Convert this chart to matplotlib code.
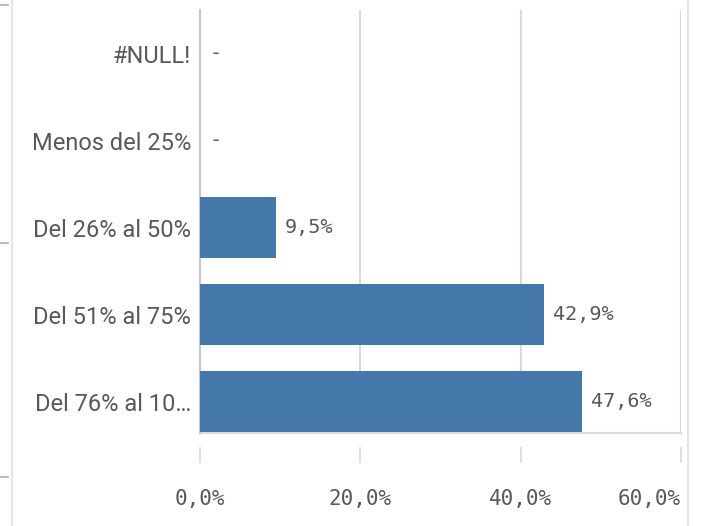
import matplotlib
matplotlib.use("Agg")
import matplotlib.pyplot as plt
from matplotlib.lines import Line2D

categories = ["#NULL!", "Menos del 25%", "Del 26% al 50%", "Del 51% al 75%", "Del 76% al 10…"]
values = [0.0, 0.0, 9.5, 42.9, 47.6]
value_labels = ["-", "-", "9,5%", "42,9%", "47,6%"]
xticks = [0, 20, 40, 60]
xtick_labels = ["0,0%", "20,0%", "40,0%", "60,0%"]

TEXT = "#595959"
GRID = "#d9d9d9"
BAR = "#4477aa"

fig = plt.figure(figsize=(7.04, 5.26), dpi=100)
ax = fig.add_axes([200 / 704, 1 - 433 / 526, 481 / 704, 423 / 526])

# offset the (hidden) bottom spine so the x ticks sit below the plot area
ax.spines["bottom"].set_position(("outward", 10))
ax.spines["bottom"].set_visible(False)
ax.spines["top"].set_visible(False)
ax.spines["right"].set_visible(False)
ax.spines["left"].set_color("#c8c8c8")
ax.spines["left"].set_linewidth(1.5)

ypos = list(range(len(categories)))
ax.barh(ypos, values, height=0.70, color=BAR, zorder=3)

for y, v, lab in zip(ypos, values, value_labels):
    ax.annotate(lab, xy=(v, y), xytext=(9, 0), textcoords="offset pixels",
                ha="left", va="center", fontsize=14.5, color=TEXT,
                family=["DejaVu Sans Mono"], zorder=4)

ax.set_xlim(0, 60)
ax.set_ylim(4.36, -0.5)
ax.set_yticks(ypos)
ax.set_yticklabels(categories, fontsize=17, color=TEXT, family=["Roboto"])
ax.tick_params(axis="y", length=0, pad=6.5)

ax.set_xticks(xticks)
ax.set_xticklabels(xtick_labels, fontsize=15, color=TEXT, family=["DejaVu Sans Mono"])
ax.tick_params(axis="x", direction="out", length=11.5, width=1.2, color=GRID, pad=18.5)
# keep the last label inside the panel
ax.get_xticklabels()[-1].set_horizontalalignment("right")

ax.grid(axis="x", color=GRID, linewidth=1.5, zorder=0)
ax.set_axisbelow(True)
# baseline along the bottom of the plotting area
ax.plot([0, 1], [0, 0], transform=ax.transAxes, color=GRID, linewidth=1.5,
        clip_on=False, zorder=1)

# panel frame lines at the figure edges
fig.add_artist(Line2D([12 / 704, 12 / 704], [0, 1], color="#e0e0e0", linewidth=1.2))
fig.add_artist(Line2D([688 / 704, 688 / 704], [0, 1], color="#e0e0e0", linewidth=1.2))
for yp in [5, 243, 477]:
    fig.add_artist(Line2D([0, 8 / 704], [1 - yp / 526] * 2, color="#b0b0b0", linewidth=1.2))

fig.savefig("out.png", dpi=100)
